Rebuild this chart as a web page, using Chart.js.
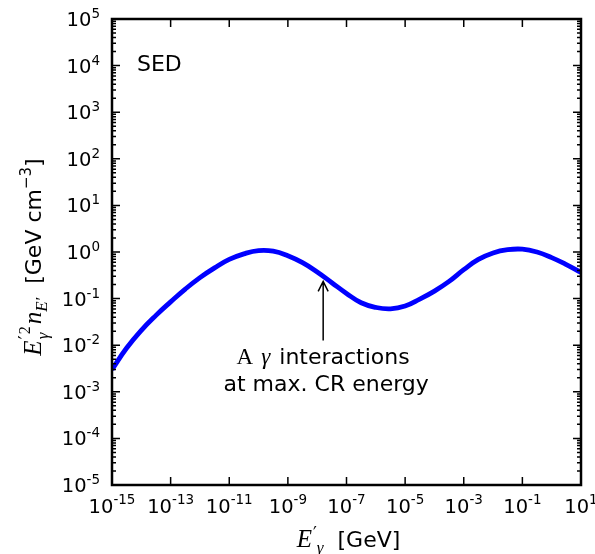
<!DOCTYPE html>
<html><head><meta charset="utf-8">
<script src="https://cdn.jsdelivr.net/npm/chart.js@4.4.0/dist/chart.umd.min.js"></script>
<style>html,body{margin:0;padding:0;background:#fff}#wrap{width:595px;height:554px;position:relative}</style>
</head><body><div id="wrap"><canvas id="c"></canvas></div>
<script>
// ---- data ----
const energyGeV = [1e-15, 3.16e-15, 1e-14, 3.16e-14, 1e-13, 3.16e-13, 1e-12, 3.16e-12, 1e-11, 3.16e-11,
  1e-10, 3.16e-10, 1e-9, 3.16e-9, 1e-8, 3.16e-8, 1e-7, 3.16e-7, 1e-6, 3.16e-6,
  1e-5, 3.16e-5, 1e-4, 3.16e-4, 1e-3, 3.16e-3, 1e-2, 3.16e-2, 1e-1, 3.16e-1, 1, 3.16, 10];
const sedGeVcm3 = [3.0e-3, 8.7e-3, 2.09e-2, 4.37e-2, 8.5e-2, 0.160, 0.282, 0.457, 0.692, 0.912,
  1.07, 1.04, 0.83, 0.589, 0.372, 0.219, 0.129, 0.0813, 0.0646, 0.0603,
  0.0692, 0.0977, 0.145, 0.234, 0.417, 0.692, 0.955, 1.12, 1.15, 1.0, 0.759, 0.537, 0.363];
const xTickValues = [1e-15, 1e-13, 1e-11, 1e-9, 1e-7, 1e-5, 1e-3, 1e-1, 10];
const xTickExps = ['-15', '-13', '-11', '-9', '-7', '-5', '-3', '-1', '1'];
const yTickValues = [1e-5, 1e-4, 1e-3, 1e-2, 1e-1, 1, 10, 100, 1e3, 1e4, 1e5];
const yTickExps = ['-5', '-4', '-3', '-2', '-1', '0', '1', '2', '3', '4', '5'];
const annotationLines = ['interactions', 'at max. CR energy'];
const annotationArrowE = 1.6e-8;
const annotationArrowTip = 0.234;
const annotationArrowTail = 0.0126;
const panelLabel = 'SED';

// ---- drawing helpers ----
const SANS = '"DejaVu Sans", sans-serif';
const SERIF = '"Liberation Serif", "DejaVu Serif", serif';

function segWidth(ctx, s) {
  if (s.stack) return Math.max(...s.stack.map(q => segWidth(ctx, q)));
  ctx.font = s.f; return ctx.measureText(s.t).width + (s.pad || 0) + (s.dx || 0);
}
function richWidth(ctx, segs) { return segs.reduce((a, s) => a + segWidth(ctx, s), 0); }
function drawSeg(ctx, s, x, y) {
  if (s.stack) { s.stack.forEach(q => drawSeg(ctx, q, x, y)); return; }
  ctx.font = s.f; ctx.fillText(s.t, x + (s.dx || 0), y + (s.dy || 0));
}
function drawRich(ctx, segs, x, y, align) {
  const w = richWidth(ctx, segs);
  let cx = align === 'center' ? x - w / 2 : (align === 'right' ? x - w : x);
  ctx.textAlign = 'left'; ctx.textBaseline = 'alphabetic';
  segs.forEach(s => { drawSeg(ctx, s, cx, y); cx += segWidth(ctx, s); });
}

const framePlugin = {
  id: 'frame',
  afterDraw(chart) {
    const ctx = chart.ctx, a = chart.chartArea;
    const xs = chart.scales.x, ys = chart.scales.y;
    ctx.save();
    ctx.fillStyle = '#000'; ctx.strokeStyle = '#000';
    // ticks
    ctx.lineWidth = 1.5;
    ctx.beginPath();
    xTickValues.forEach(v => {
      const px = xs.getPixelForValue(v);
      ctx.moveTo(px, a.bottom); ctx.lineTo(px, a.bottom - 8);
      ctx.moveTo(px, a.top); ctx.lineTo(px, a.top + 8);
    });
    yTickValues.forEach((v, i) => {
      const py = ys.getPixelForValue(v);
      ctx.moveTo(a.left, py); ctx.lineTo(a.left + 8, py);
      ctx.moveTo(a.right, py); ctx.lineTo(a.right - 8, py);
      if (i < yTickValues.length - 1) {
        for (let k = 2; k <= 9; k++) {
          const pm = ys.getPixelForValue(v * k);
          ctx.moveTo(a.left, pm); ctx.lineTo(a.left + 4, pm);
          ctx.moveTo(a.right, pm); ctx.lineTo(a.right - 4, pm);
        }
      }
    });
    ctx.stroke();
    // frame
    ctx.lineWidth = 2.5;
    ctx.strokeRect(a.left, a.top, a.right - a.left, a.bottom - a.top);
    // tick labels
    const base = '19.5px ' + SANS, sup = '13.5px ' + SANS;
    xTickValues.forEach((v, i) => {
      drawRich(ctx, [{ t: '10', f: base }, { t: xTickExps[i], f: sup, dy: -9.5 }], xs.getPixelForValue(v), a.bottom + 28, 'center');
    });
    yTickValues.forEach((v, i) => {
      drawRich(ctx, [{ t: '10', f: base }, { t: yTickExps[i], f: sup, dy: -8 }], a.left - 12, ys.getPixelForValue(v) + 7, 'right');
    });
    // panel label
    ctx.font = '22px ' + SANS; ctx.textAlign = 'left'; ctx.textBaseline = 'alphabetic';
    ctx.fillText(panelLabel, a.left + 25, a.top + 52);
    // x axis label
    const mi = 'italic 25px ' + SERIF, ms = 'italic 17px ' + SERIF, pr = '17px "DejaVu Sans"';
    drawRich(ctx, [{ t: 'E', f: mi, pad: 1 }, { t: '\u2032', f: pr, dy: -8 }, { t: '\u03b3', f: ms, dy: 6 }, { t: '  ', f: '22px ' + SANS }, { t: '[GeV]', f: '22px ' + SANS }],
      (a.left + a.right) / 2 + 2, a.bottom + 62, 'center');
    // y axis label
    ctx.save();
    ctx.translate(41, (a.top + a.bottom) / 2 + 5);
    ctx.rotate(-Math.PI / 2);
    drawRich(ctx, [
      { t: 'E', f: mi, pad: 1 },
      { stack: [{ t: '\u2032', f: pr, dy: -10 }, { t: '2', f: '16px ' + SERIF, dy: -11, dx: 5, pad: 2 }, { t: '\u03b3', f: ms, dy: 7 }] },
      { t: 'n', f: mi },
      { t: 'E\u2032', f: ms, dy: 6 },
      { t: '  [GeV cm', f: '22px ' + SANS },
      { t: '\u22123', f: '15px ' + SANS, dy: -10 },
      { t: ']', f: '22px ' + SANS }
    ], 0, 0, 'center');
    ctx.restore();
    // annotation arrow
    const ax = xs.getPixelForValue(annotationArrowE);
    const tip = ys.getPixelForValue(annotationArrowTip), tail = ys.getPixelForValue(annotationArrowTail);
    ctx.lineWidth = 1.5;
    ctx.beginPath();
    ctx.moveTo(ax, tail); ctx.lineTo(ax, tip);
    ctx.moveTo(ax - 5, tip + 10); ctx.lineTo(ax, tip); ctx.lineTo(ax + 5, tip + 10);
    ctx.stroke();
    const af = '22px ' + SANS;
    drawRich(ctx, [{ t: 'A', f: '23px ' + SERIF, pad: 8 }, { t: '\u03b3', f: 'italic 23px ' + SERIF, pad: 9 }, { t: annotationLines[0], f: af }],
      ax, tail + 23, 'center');
    ctx.font = af; ctx.textAlign = 'center';
    ctx.fillText(annotationLines[1], ax + 3, tail + 50);
    ctx.restore();
  }
};

new Chart(document.getElementById('c'), {
  type: 'line',
  data: {
    datasets: [{
      data: energyGeV.map((e, i) => ({ x: e, y: sedGeVcm3[i] })),
      borderColor: '#0000ff', borderWidth: 4.8, pointRadius: 0,
      tension: 0.45, fill: false
    }]
  },
  options: {
    responsive: true, maintainAspectRatio: false, animation: false,
    layout: { padding: { left: 112, right: 14, top: 19, bottom: 69 } },
    plugins: { legend: { display: false }, tooltip: { enabled: false } },
    scales: {
      x: { type: 'logarithmic', min: 1e-15, max: 10, display: false },
      y: { type: 'logarithmic', min: 1e-5, max: 1e5, display: false }
    }
  },
  plugins: [framePlugin]
});
</script>
</body></html>
